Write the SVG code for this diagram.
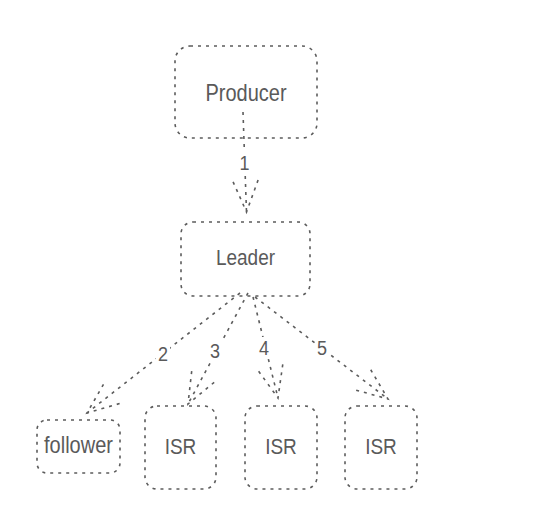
<svg xmlns="http://www.w3.org/2000/svg" width="535" height="523" viewBox="0 0 535 523">
<style>
.box{fill:#fff;stroke:#5c5c5c;stroke-width:1.6;stroke-dasharray:3 5}
.edge{fill:none;stroke:#5c5c5c;stroke-width:1.6;stroke-dasharray:3 5}
.t{font-family:"Liberation Sans",Arial,sans-serif;fill:#5a5a5a;text-anchor:middle}
.n20{font-size:20px}
.n19{font-size:19px}
.lbl{font-size:18px}
.bg{fill:#fff}
</style>
<defs>
<marker id="open" markerUnits="userSpaceOnUse" orient="auto" markerWidth="40" markerHeight="40" refX="0" refY="0" overflow="visible">
<path d="M -31.5 -12.7 L 0 0 L -31.5 12.7" fill="none" stroke="#5c5c5c" stroke-width="1.6" stroke-dasharray="3 5"/>
</marker>
</defs>
<rect width="535" height="523" fill="#fff"/>
<g id="producer">
<rect class="box" x="175" y="46" width="142" height="92" rx="15"/>
<text class="t n20" transform="translate(246,100.5) scale(1,1.18)">Producer</text>
</g>
<g id="leader">
<rect class="box" x="181" y="222" width="129" height="74" rx="12"/>
<text class="t n19" transform="translate(245.5,265) scale(1,1.18)">Leader</text>
</g>
<g id="follower">
<rect class="box" x="37" y="420" width="83" height="53" rx="10"/>
<text class="t n20" transform="translate(78.5,453.3) scale(1,1.18)">follower</text>
</g>
<g id="isr1">
<rect class="box" x="145" y="406" width="71" height="83" rx="12"/>
<text class="t n19" transform="translate(180.5,454) scale(1,1.18)">ISR</text>
</g>
<g id="isr2">
<rect class="box" x="245" y="406" width="72" height="83" rx="12"/>
<text class="t n19" transform="translate(281,454) scale(1,1.18)">ISR</text>
</g>
<g id="isr3">
<rect class="box" x="345" y="406" width="72" height="83" rx="12"/>
<text class="t n19" transform="translate(381,454) scale(1,1.18)">ISR</text>
</g>
<g id="connectors">
<path class="edge" d="M 243 112 L 246.5 212" marker-end="url(#open)"/>
<path class="edge" d="M 240 293 L 87 413" marker-end="url(#open)"/>
<path class="edge" d="M 248 293 L 188 404" marker-end="url(#open)"/>
<path class="edge" d="M 253 297 L 278 398" marker-end="url(#open)"/>
<path class="edge" d="M 255 297 L 388 399" marker-end="url(#open)"/>
<rect class="bg" x="237" y="151" width="15" height="22"/>
<text class="t lbl" transform="translate(244.5,170) scale(1,1.16)">1</text>
<rect class="bg" x="156" y="343" width="14" height="21"/>
<text class="t lbl" transform="translate(163,361) scale(1,1.16)">2</text>
<rect class="bg" x="208" y="340" width="14" height="21"/>
<text class="t lbl" transform="translate(215,358) scale(1,1.16)">3</text>
<rect class="bg" x="257" y="337" width="14" height="21"/>
<text class="t lbl" transform="translate(264,355) scale(1,1.16)">4</text>
<rect class="bg" x="315" y="337" width="14" height="21"/>
<text class="t lbl" transform="translate(322,355) scale(1,1.16)">5</text>
</g>
</svg>
